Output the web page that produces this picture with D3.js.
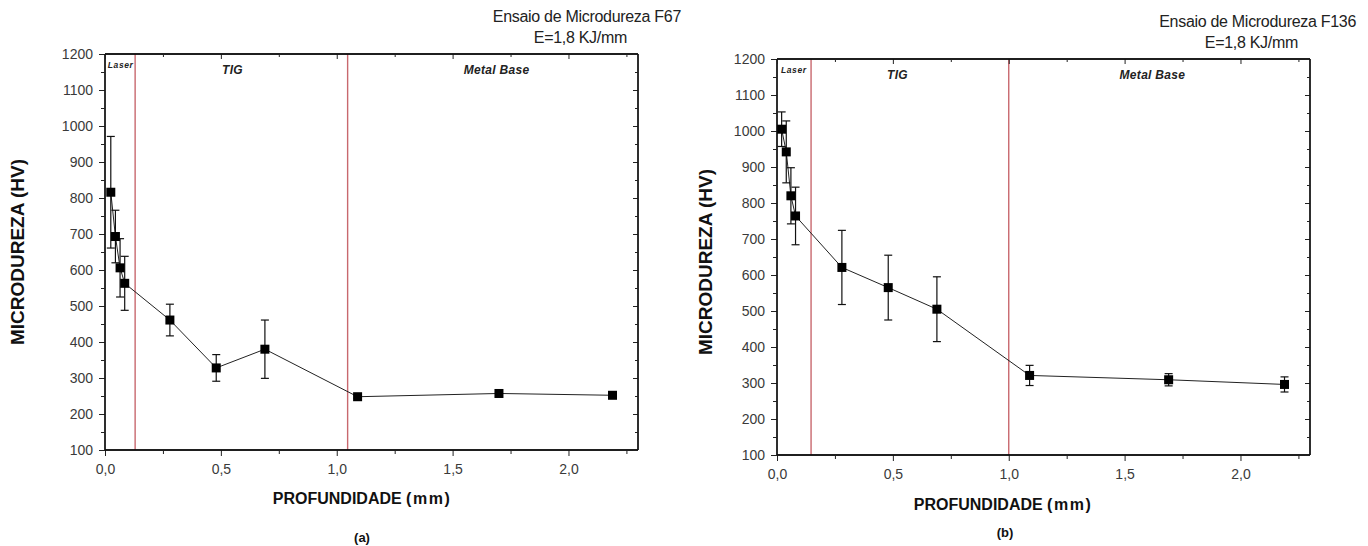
<!DOCTYPE html>
<html><head><meta charset="utf-8">
<script src="https://cdn.jsdelivr.net/npm/d3@7"></script>
<style>
body{margin:0;background:#fff;}
svg{display:block;}
</style></head>
<body>
<svg id="chart" width="1368" height="546"></svg>
<script>
// ---- data ----
const titlesA = ["Ensaio de Microdureza F67", "E=1,8 KJ/mm"];
const titlesB = ["Ensaio de Microdureza F136", "E=1,8 KJ/mm"];
const depthA = [0.025, 0.045, 0.065, 0.085, 0.28, 0.48, 0.69, 1.09, 1.70, 2.19];
const hardA  = [816, 693, 606, 563, 461, 328, 380, 248, 257, 252];
const errA   = [155, 73, 81, 75, 44, 37, 81, 4, 4, 4];
const depthB = [0.02, 0.04, 0.06, 0.08, 0.28, 0.48, 0.69, 1.09, 1.69, 2.19];
const hardB  = [1005, 942, 820, 764, 621, 565, 505, 321, 309, 296];
const errB   = [48, 86, 78, 80, 103, 90, 90, 28, 17, 21];
const boundsA = [0.13, 1.047];
const boundsB = [0.147, 1.0];
const regionNames = ["Laser", "TIG", "Metal Base"];
const regionPosA = [0.012, 0.55, 1.69];
const regionPosB = [0.017, 0.52, 1.62];
const xTicks = [0, 0.5, 1.0, 1.5, 2.0];
const yTicks = [100, 200, 300, 400, 500, 600, 700, 800, 900, 1000, 1100, 1200];
const xLabelParts = ["PROFUNDIDADE ", "(mm)"];
const yLabel = "MICRODUREZA (HV)";
const panelTags = ["(a)", "(b)"];

const svg = d3.select("#chart");
const sans = "'Liberation Sans',Arial,sans-serif";
const fmt = d => d3.format(".1f")(d).replace(".", ",");

function panel(o) {
  const x = d3.scaleLinear().domain([0, 2.3]).range([o.x0, o.x1]);
  const y = d3.scaleLinear().domain([100, 1200]).range([o.yb, o.yt]);
  const g = svg.append("g");

  g.selectAll(".bd").data(o.bounds).join("line")
    .attr("x1", d => x(d)).attr("x2", d => x(d))
    .attr("y1", o.yt).attr("y2", o.yb)
    .attr("stroke", "#c8686e").attr("stroke-width", 1.4);

  const minorX = d3.range(0, 2.30001, 0.25).filter(v => Math.abs(v * 2 - Math.round(v * 2)) > 1e-6);
  const minorY = d3.range(150, 1200, 100);

  const gb = g.append("g").attr("transform", `translate(0,${o.yb})`)
    .call(d3.axisBottom(x).tickValues(xTicks).tickFormat(fmt).tickSize(6).tickPadding(8));
  g.append("g").attr("transform", `translate(0,${o.yb})`)
    .call(d3.axisBottom(x).tickValues(minorX).tickFormat("").tickSize(4));
  const gl = g.append("g").attr("transform", `translate(${o.x0},0)`)
    .call(d3.axisLeft(y).tickValues(yTicks).tickFormat(d3.format("d")).tickSize(6).tickPadding(6));
  g.append("g").attr("transform", `translate(${o.x0},0)`)
    .call(d3.axisLeft(y).tickValues(minorY).tickFormat("").tickSize(4));
  g.append("g").attr("transform", `translate(0,${o.yt})`)
    .call(d3.axisTop(x).tickValues(xTicks).tickFormat("").tickSize(-5));
  g.append("g").attr("transform", `translate(0,${o.yt})`)
    .call(d3.axisTop(x).tickValues(minorX).tickFormat("").tickSize(-3));
  g.append("g").attr("transform", `translate(${o.x1},0)`)
    .call(d3.axisRight(y).tickValues(yTicks).tickFormat("").tickSize(-5));
  g.append("g").attr("transform", `translate(${o.x1},0)`)
    .call(d3.axisRight(y).tickValues(minorY).tickFormat("").tickSize(-3));

  g.selectAll(".domain").attr("stroke", "#111").attr("stroke-width", 1.3);
  g.selectAll(".tick line").attr("stroke", "#222").attr("stroke-width", 1);
  [gb, gl].forEach(a => a.selectAll("text")
    .attr("font-family", sans).attr("font-size", 14).attr("fill", "#3a3a3a"));
  g.selectAll(".domain").each(function () {
    const t = d3.select(this.parentNode).attr("transform");
    const isH = /translate\(0,/.test(t);
    d3.select(this).attr("d", isH ? `M${o.x0},0H${o.x1}` : `M0,${o.yt}V${o.yb}`);
  });

  const pts = o.depth.map((d, i) => [d, o.hard[i], o.err[i]]);
  g.append("path").datum(pts)
    .attr("fill", "none").attr("stroke", "#222").attr("stroke-width", 1)
    .attr("d", d3.line().x(d => x(d[0])).y(d => y(d[1])));
  const eb = g.selectAll(".eb").data(pts).join("g");
  eb.append("line").attr("x1", d => x(d[0])).attr("x2", d => x(d[0]))
    .attr("y1", d => y(d[1] + d[2])).attr("y2", d => y(d[1] - d[2]))
    .attr("stroke", "#111").attr("stroke-width", 1.2);
  [1, -1].forEach(s => eb.append("line")
    .attr("x1", d => x(d[0]) - 4).attr("x2", d => x(d[0]) + 4)
    .attr("y1", d => y(d[1] + s * d[2])).attr("y2", d => y(d[1] + s * d[2]))
    .attr("stroke", "#111").attr("stroke-width", 1.2));
  g.selectAll(".mk").data(pts).join("rect")
    .attr("x", d => x(d[0]) - 4.5).attr("y", d => y(d[1]) - 4.5)
    .attr("width", 9).attr("height", 9).attr("fill", "#000");

  g.selectAll(".rl").data(regionNames).join("text")
    .attr("x", (d, i) => x(o.regionPos[i]))
    .attr("y", (d, i) => o.yt + (i === 0 ? 14 : 20))
    .attr("font-family", sans).attr("font-style", "italic").attr("font-weight", "bold")
    .attr("font-size", (d, i) => i === 0 ? 8.5 : 12).attr("fill", "#222")
    .attr("letter-spacing", (d, i) => i === 0 ? 0.6 : 0.3)
    .attr("text-anchor", (d, i) => i === 0 ? "start" : "middle")
    .text(d => d);

  g.append("text").attr("x", o.titleX).attr("y", o.titleY).attr("text-anchor", "end")
    .attr("font-family", sans).attr("font-size", 16).attr("letter-spacing", -0.3)
    .attr("fill", "#222").text(o.titles[0]);
  g.append("text").attr("x", o.titleX - o.eShift).attr("y", o.titleY + 21).attr("text-anchor", "end")
    .attr("font-family", sans).attr("font-size", 16).attr("letter-spacing", -0.3)
    .attr("fill", "#222").text(o.titles[1]);

  const xl = g.append("text").attr("x", o.xlabX).attr("y", o.xlabY).attr("text-anchor", "middle")
    .attr("font-family", sans).attr("font-weight", "bold").attr("font-size", 16)
    .attr("fill", "#111");
  xl.append("tspan").text(xLabelParts[0]);
  xl.append("tspan").attr("letter-spacing", 1.5).text(xLabelParts[1]);
  g.append("text").attr("transform", `translate(${o.ylabX},${o.ylabY}) rotate(-90)`)
    .attr("text-anchor", "middle").attr("font-family", sans).attr("font-weight", "bold")
    .attr("font-size", 19).attr("fill", "#111").text(yLabel);
  g.append("text").attr("x", o.tagX).attr("y", o.tagY).attr("text-anchor", "middle")
    .attr("font-family", sans).attr("font-weight", "bold").attr("font-size", 13)
    .attr("fill", "#111").text(o.tag);
}

panel({x0: 105, x1: 638, yt: 54, yb: 450, depth: depthA, hard: hardA, err: errA,
  bounds: boundsA, regionPos: regionPosA, titles: titlesA, titleX: 681, titleY: 22, eShift: 54,
  xlabX: 362, xlabY: 504, ylabX: 24, ylabY: 252, tag: panelTags[0], tagX: 362, tagY: 542});
panel({x0: 777, x1: 1310, yt: 59, yb: 455, depth: depthB, hard: hardB, err: errB,
  bounds: boundsB, regionPos: regionPosB, titles: titlesB, titleX: 1356, titleY: 27, eShift: 58,
  xlabX: 1003, xlabY: 510, ylabX: 712, ylabY: 262, tag: panelTags[1], tagX: 1005, tagY: 537});
</script>
</body></html>
